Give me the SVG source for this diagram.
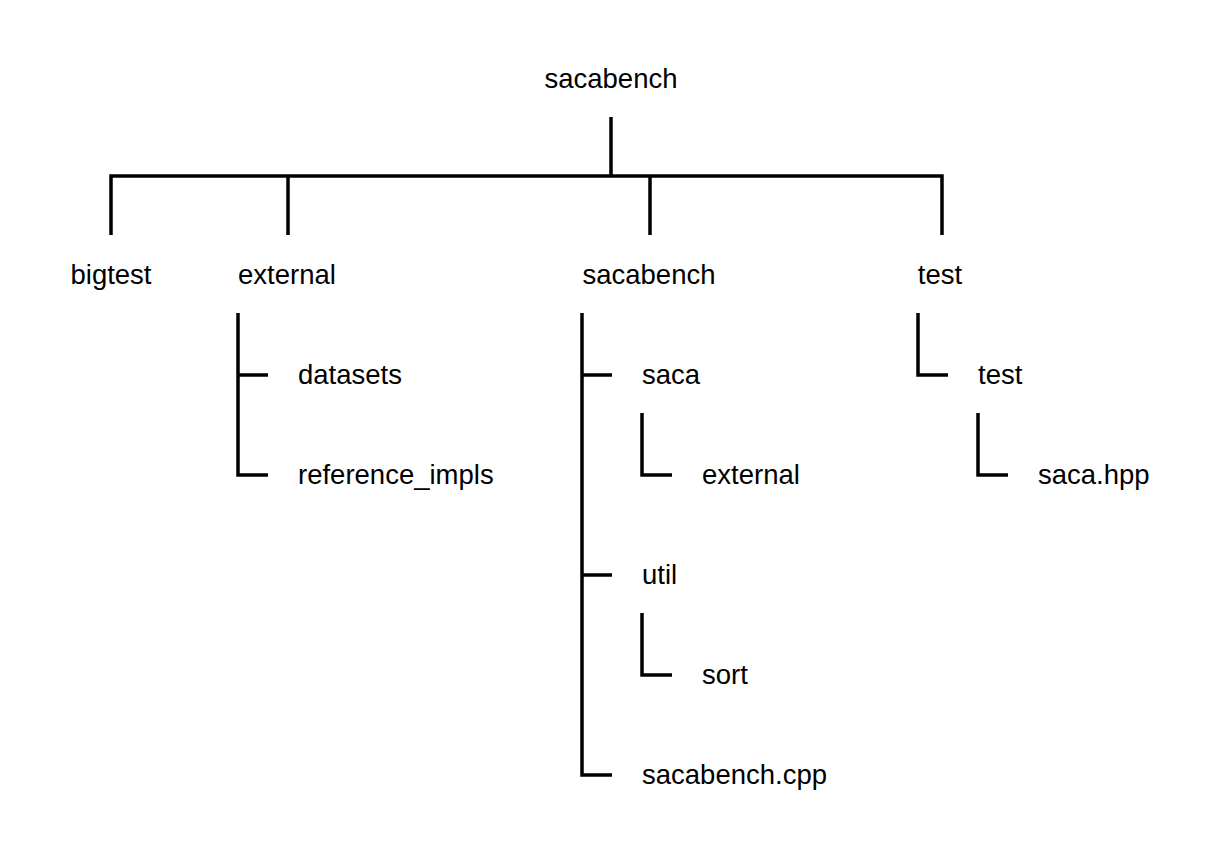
<svg xmlns="http://www.w3.org/2000/svg" width="1224" height="852" viewBox="0 0 1224 852">
<style>
.l{fill:none;stroke:#000;stroke-width:3.5;stroke-linecap:butt;stroke-linejoin:miter}
.t{font-family:"Liberation Sans",Arial,Helvetica,sans-serif;font-size:27.5px;fill:#000}
.c{text-anchor:middle}
</style>
<rect width="1224" height="852" fill="#fff"/>
<g id="connectors">
<path class="l" d="M611 117V176"/>
<path class="l" d="M111 235V176H942V235"/>
<path class="l" d="M288 176V235"/>
<path class="l" d="M650 176V235"/>
<path class="l" d="M238 313V475H268M238 375H268"/>
<path class="l" d="M582 313V775H612M582 375H612M582 575H612"/>
<path class="l" d="M642 413V475H672"/>
<path class="l" d="M642 613V675H672"/>
<path class="l" d="M918 313V375H948"/>
<path class="l" d="M978 413V475H1008"/>
</g>
<g id="root"><text class="t c" x="611" y="88">sacabench</text></g>
<g id="bigtest"><text class="t c" x="111" y="284">bigtest</text></g>
<g id="external"><text class="t c" x="287" y="284">external</text></g>
<g id="sacabench-dir"><text class="t c" x="649" y="284">sacabench</text></g>
<g id="test"><text class="t c" x="940" y="284">test</text></g>
<g id="datasets"><text class="t" x="298" y="384">datasets</text></g>
<g id="reference_impls"><text class="t" x="298" y="484">reference_impls</text></g>
<g id="saca"><text class="t" x="642" y="384">saca</text></g>
<g id="saca-external"><text class="t" x="702" y="484">external</text></g>
<g id="util"><text class="t" x="642" y="584">util</text></g>
<g id="sort"><text class="t" x="702" y="684">sort</text></g>
<g id="sacabench-cpp"><text class="t" x="642" y="784">sacabench.cpp</text></g>
<g id="test-test"><text class="t" x="978" y="384">test</text></g>
<g id="saca-hpp"><text class="t" x="1038" y="484">saca.hpp</text></g>
</svg>
